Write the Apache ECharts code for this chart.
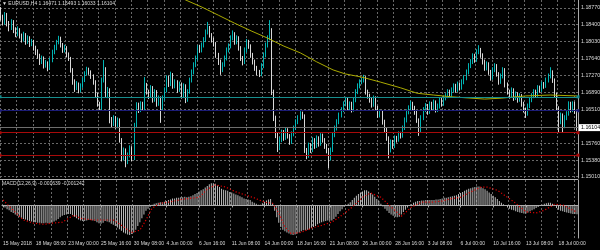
<!DOCTYPE html>
<html><head><meta charset="utf-8">
<script src="https://cdn.jsdelivr.net/npm/echarts@6/dist/echarts.min.js"></script>
<style>html,body{margin:0;padding:0;background:#000;}#c{width:600px;height:250px;}</style>
</head><body><div id="c"></div>
<script>
const symbolName = 'EURUSD,H4';
const opens = [
1.1868,1.1855,1.1846,1.1861,1.1841,1.1832,1.1846,1.1828,1.1819,1.1828,
1.1815,1.1806,1.1817,1.1801,1.1810,1.1797,1.1801,1.1788,1.1779,1.1770,
1.1757,1.1765,1.1748,1.1754,1.1743,1.1761,1.1779,1.1788,1.1801,1.1810,
1.1794,1.1783,1.1788,1.1772,1.1765,1.1739,1.1712,1.1699,1.1707,1.1694,
1.1703,1.1716,1.1730,1.1739,1.1734,1.1725,1.1712,1.1683,1.1663,1.1654,
1.1716,1.1739,1.1683,1.1694,1.1627,1.1618,1.1632,1.1614,1.1627,1.1583,
1.1542,1.1560,1.1534,1.1549,1.1565,1.1542,1.1616,1.1661,1.1650,1.1663,
1.1654,1.1705,1.1690,1.1681,1.1699,1.1672,1.1690,1.1663,1.1676,1.1654,
1.1676,1.1694,1.1721,1.1707,1.1728,1.1703,1.1712,1.1694,1.1707,1.1681,
1.1703,1.1672,1.1690,1.1716,1.1734,1.1750,1.1765,1.1788,1.1783,1.1794,
1.1806,1.1823,1.1832,1.1817,1.1806,1.1797,1.1772,1.1757,1.1739,1.1750,
1.1765,1.1783,1.1792,1.1810,1.1819,1.1801,1.1810,1.1788,1.1765,1.1757,
1.1783,1.1801,1.1792,1.1772,1.1757,1.1743,1.1734,1.1730,1.1748,1.1772,
1.1794,1.1810,1.1828,1.1690,1.1632,1.1594,1.1565,1.1583,1.1600,1.1587,
1.1605,1.1592,1.1578,1.1596,1.1609,1.1623,1.1632,1.1641,1.1636,1.1560,
1.1547,1.1571,1.1560,1.1583,1.1569,1.1587,1.1574,1.1592,1.1583,1.1569,
1.1560,1.1542,1.1560,1.1594,1.1609,1.1623,1.1638,1.1650,1.1663,1.1672,
1.1654,1.1663,1.1650,1.1672,1.1690,1.1703,1.1712,1.1716,1.1721,1.1690,
1.1681,1.1672,1.1661,1.1676,1.1654,1.1638,1.1645,1.1623,1.1605,1.1587,
1.1560,1.1578,1.1569,1.1587,1.1583,1.1596,1.1592,1.1609,1.1627,1.1645,
1.1654,1.1663,1.1654,1.1645,1.1627,1.1605,1.1632,1.1650,1.1658,1.1645,
1.1663,1.1654,1.1667,1.1650,1.1658,1.1672,1.1663,1.1676,1.1681,1.1690,
1.1683,1.1694,1.1703,1.1694,1.1707,1.1699,1.1712,1.1721,1.1734,1.1748,
1.1757,1.1770,1.1761,1.1779,1.1783,1.1772,1.1757,1.1743,1.1752,1.1734,
1.1721,1.1739,1.1748,1.1730,1.1712,1.1725,1.1739,1.1707,1.1690,1.1681,
1.1694,1.1676,1.1685,1.1672,1.1681,1.1663,1.1650,1.1641,1.1658,1.1672,
1.1681,1.1690,1.1683,1.1699,1.1694,1.1707,1.1703,1.1716,1.1725,1.1734,
1.1716,1.1683,1.1654,1.1623,1.1638,1.1614,1.1632,1.1641,1.1663,1.1650,
1.1663,1.16471];
const highs = [
1.1879,1.1862,1.1868,1.1866,1.1848,1.1852,1.1850,1.1834,1.1836,1.1832,
1.1820,1.1824,1.1821,1.1816,1.1814,1.1808,1.1806,1.1793,1.1785,1.1775,
1.1771,1.1769,1.1761,1.1758,1.1766,1.1784,1.1795,1.1806,1.1815,1.1813,
1.1799,1.1795,1.1792,1.1778,1.1768,1.1743,1.1718,1.1714,1.1711,1.1709,
1.1722,1.1736,1.1746,1.1744,1.1738,1.1729,1.1716,1.1688,1.1668,1.1722,
1.1761,1.1745,1.1701,1.1698,1.1634,1.1638,1.1636,1.1633,1.1631,1.1587,
1.1566,1.1564,1.1555,1.1571,1.1569,1.1621,1.1667,1.1666,1.1669,1.1668,
1.1723,1.1710,1.1695,1.1705,1.1703,1.1696,1.1694,1.1682,1.1680,1.1682,
1.1700,1.1727,1.1726,1.1735,1.1732,1.1718,1.1716,1.1713,1.1711,1.1709,
1.1707,1.1696,1.1722,1.1740,1.1756,1.1771,1.1794,1.1795,1.1800,1.1812,
1.1829,1.1846,1.1837,1.1821,1.1811,1.1801,1.1777,1.1762,1.1756,1.1771,
1.1789,1.1798,1.1816,1.1827,1.1823,1.1816,1.1814,1.1792,1.1770,1.1789,
1.1808,1.1806,1.1796,1.1777,1.1762,1.1748,1.1739,1.1754,1.1778,1.1800,
1.1816,1.1850,1.1832,1.1695,1.1637,1.1599,1.1589,1.1606,1.1605,1.1611,
1.1609,1.1596,1.1602,1.1615,1.1629,1.1638,1.1647,1.1646,1.1640,1.1565,
1.1577,1.1576,1.1589,1.1587,1.1593,1.1591,1.1598,1.1597,1.1587,1.1574,
1.1565,1.1566,1.1600,1.1615,1.1629,1.1644,1.1656,1.1669,1.1679,1.1677,
1.1669,1.1668,1.1678,1.1696,1.1709,1.1718,1.1722,1.1728,1.1725,1.1695,
1.1686,1.1677,1.1682,1.1680,1.1659,1.1651,1.1649,1.1628,1.1610,1.1591,
1.1584,1.1583,1.1593,1.1592,1.1602,1.1601,1.1615,1.1633,1.1651,1.1660,
1.1670,1.1668,1.1659,1.1649,1.1631,1.1638,1.1656,1.1665,1.1663,1.1669,
1.1668,1.1673,1.1671,1.1664,1.1678,1.1677,1.1682,1.1687,1.1696,1.1695,
1.1700,1.1709,1.1708,1.1713,1.1711,1.1718,1.1727,1.1740,1.1754,1.1763,
1.1776,1.1775,1.1785,1.1794,1.1788,1.1776,1.1762,1.1758,1.1756,1.1739,
1.1745,1.1754,1.1752,1.1734,1.1731,1.1745,1.1743,1.1711,1.1695,1.1700,
1.1698,1.1691,1.1689,1.1687,1.1685,1.1668,1.1655,1.1664,1.1678,1.1687,
1.1696,1.1695,1.1705,1.1704,1.1713,1.1712,1.1722,1.1731,1.1745,1.1738,
1.1720,1.1688,1.1658,1.1644,1.1642,1.1638,1.1647,1.1669,1.1668,1.1669,
1.1668,1.16493];
const lows = [
1.1849,1.1838,1.1840,1.1836,1.1825,1.1828,1.1821,1.1812,1.1814,1.1809,
1.1800,1.1802,1.1795,1.1797,1.1790,1.1792,1.1782,1.1772,1.1764,1.1750,
1.1752,1.1742,1.1744,1.1736,1.1739,1.1756,1.1774,1.1783,1.1796,1.1789,
1.1777,1.1778,1.1767,1.1759,1.1733,1.1706,1.1690,1.1694,1.1687,1.1689,
1.1699,1.1712,1.1726,1.1728,1.1719,1.1706,1.1677,1.1657,1.1648,1.1650,
1.1711,1.1678,1.1676,1.1620,1.1611,1.1614,1.1608,1.1609,1.1577,1.1535,
1.1537,1.1522,1.1529,1.1544,1.1536,1.1538,1.1611,1.1643,1.1645,1.1648,
1.1650,1.1684,1.1674,1.1677,1.1666,1.1668,1.1657,1.1659,1.1621,1.1648,
1.1671,1.1689,1.1701,1.1703,1.1697,1.1698,1.1688,1.1690,1.1675,1.1677,
1.1665,1.1668,1.1686,1.1711,1.1729,1.1745,1.1760,1.1777,1.1778,1.1789,
1.1801,1.1818,1.1811,1.1800,1.1791,1.1766,1.1750,1.1728,1.1734,1.1746,
1.1760,1.1778,1.1787,1.1805,1.1795,1.1796,1.1782,1.1759,1.1749,1.1752,
1.1778,1.1786,1.1766,1.1751,1.1737,1.1727,1.1723,1.1725,1.1743,1.1767,
1.1789,1.1805,1.1683,1.1625,1.1587,1.1556,1.1560,1.1578,1.1581,1.1583,
1.1586,1.1572,1.1574,1.1591,1.1605,1.1618,1.1627,1.1630,1.1554,1.1540,
1.1543,1.1554,1.1556,1.1563,1.1565,1.1568,1.1570,1.1577,1.1563,1.1553,
1.1520,1.1537,1.1556,1.1589,1.1604,1.1618,1.1633,1.1645,1.1658,1.1648,
1.1649,1.1644,1.1646,1.1667,1.1685,1.1698,1.1707,1.1711,1.1684,1.1675,
1.1666,1.1655,1.1657,1.1648,1.1632,1.1633,1.1617,1.1599,1.1581,1.1542,
1.1555,1.1563,1.1565,1.1577,1.1579,1.1586,1.1588,1.1605,1.1622,1.1640,
1.1649,1.1648,1.1639,1.1621,1.1592,1.1600,1.1627,1.1645,1.1639,1.1641,
1.1648,1.1650,1.1644,1.1645,1.1653,1.1657,1.1659,1.1671,1.1676,1.1677,
1.1679,1.1689,1.1688,1.1690,1.1693,1.1695,1.1707,1.1716,1.1729,1.1743,
1.1752,1.1755,1.1757,1.1774,1.1766,1.1751,1.1737,1.1738,1.1728,1.1715,
1.1717,1.1734,1.1724,1.1706,1.1708,1.1720,1.1700,1.1684,1.1675,1.1677,
1.1670,1.1672,1.1666,1.1668,1.1657,1.1644,1.1632,1.1637,1.1654,1.1667,
1.1676,1.1677,1.1679,1.1688,1.1690,1.1697,1.1699,1.1711,1.1720,1.1710,
1.1677,1.1648,1.1600,1.1618,1.1600,1.1609,1.1627,1.1637,1.1644,1.1645,
1.1641,1.16033];
const closes = [
1.1855,1.1846,1.1861,1.1841,1.1832,1.1846,1.1828,1.1819,1.1828,1.1815,
1.1806,1.1817,1.1801,1.1810,1.1797,1.1801,1.1788,1.1779,1.1770,1.1757,
1.1765,1.1748,1.1754,1.1743,1.1761,1.1779,1.1788,1.1801,1.1810,1.1794,
1.1783,1.1788,1.1772,1.1765,1.1739,1.1712,1.1699,1.1707,1.1694,1.1703,
1.1716,1.1730,1.1739,1.1734,1.1725,1.1712,1.1683,1.1663,1.1654,1.1716,
1.1739,1.1683,1.1694,1.1627,1.1618,1.1632,1.1614,1.1627,1.1583,1.1542,
1.1560,1.1534,1.1549,1.1565,1.1542,1.1616,1.1661,1.1650,1.1663,1.1654,
1.1705,1.1690,1.1681,1.1699,1.1672,1.1690,1.1663,1.1676,1.1654,1.1676,
1.1694,1.1721,1.1707,1.1728,1.1703,1.1712,1.1694,1.1707,1.1681,1.1703,
1.1672,1.1690,1.1716,1.1734,1.1750,1.1765,1.1788,1.1783,1.1794,1.1806,
1.1823,1.1832,1.1817,1.1806,1.1797,1.1772,1.1757,1.1739,1.1750,1.1765,
1.1783,1.1792,1.1810,1.1819,1.1801,1.1810,1.1788,1.1765,1.1757,1.1783,
1.1801,1.1792,1.1772,1.1757,1.1743,1.1734,1.1730,1.1748,1.1772,1.1794,
1.1810,1.1828,1.1690,1.1632,1.1594,1.1565,1.1583,1.1600,1.1587,1.1605,
1.1592,1.1578,1.1596,1.1609,1.1623,1.1632,1.1641,1.1636,1.1560,1.1547,
1.1571,1.1560,1.1583,1.1569,1.1587,1.1574,1.1592,1.1583,1.1569,1.1560,
1.1542,1.1560,1.1594,1.1609,1.1623,1.1638,1.1650,1.1663,1.1672,1.1654,
1.1663,1.1650,1.1672,1.1690,1.1703,1.1712,1.1716,1.1721,1.1690,1.1681,
1.1672,1.1661,1.1676,1.1654,1.1638,1.1645,1.1623,1.1605,1.1587,1.1560,
1.1578,1.1569,1.1587,1.1583,1.1596,1.1592,1.1609,1.1627,1.1645,1.1654,
1.1663,1.1654,1.1645,1.1627,1.1605,1.1632,1.1650,1.1658,1.1645,1.1663,
1.1654,1.1667,1.1650,1.1658,1.1672,1.1663,1.1676,1.1681,1.1690,1.1683,
1.1694,1.1703,1.1694,1.1707,1.1699,1.1712,1.1721,1.1734,1.1748,1.1757,
1.1770,1.1761,1.1779,1.1783,1.1772,1.1757,1.1743,1.1752,1.1734,1.1721,
1.1739,1.1748,1.1730,1.1712,1.1725,1.1739,1.1707,1.1690,1.1681,1.1694,
1.1676,1.1685,1.1672,1.1681,1.1663,1.1650,1.1641,1.1658,1.1672,1.1681,
1.1690,1.1683,1.1699,1.1694,1.1707,1.1703,1.1716,1.1725,1.1734,1.1716,
1.1683,1.1654,1.1623,1.1638,1.1614,1.1632,1.1641,1.1663,1.1650,1.1663,
1.1647,1.16104];

const maBars   = [86, 90, 98, 106, 114, 122, 130, 138, 146, 154, 162, 168, 176, 185, 195, 203, 211, 220, 236, 244, 256, 268, 281];
const maValues = [1.1906, 1.1895, 1.1879, 1.1861, 1.1843, 1.1826, 1.1810, 1.1792, 1.1777, 1.1757, 1.1739, 1.1730, 1.1723, 1.1712, 1.1699, 1.1687, 1.1683, 1.1679, 1.1674, 1.1676, 1.1681, 1.1683, 1.1681];

const levelValues = [1.1679, 1.1648, 1.1599, 1.1549];

const macdHist = [
-0.0002,-0.0004,-0.0007,-0.0009,-0.0012,-0.0014,-0.0017,-0.0019,-0.0021,-0.0023,
-0.0025,-0.0026,-0.0028,-0.0029,-0.0030,-0.0031,-0.0031,-0.0032,-0.0032,-0.0033,
-0.0033,-0.0032,-0.0033,-0.0033,-0.0032,-0.0030,-0.0028,-0.0025,-0.0022,-0.0019,
-0.0018,-0.0017,-0.0016,-0.0016,-0.0018,-0.0021,-0.0024,-0.0026,-0.0028,-0.0029,
-0.0029,-0.0028,-0.0027,-0.0027,-0.0028,-0.0029,-0.0031,-0.0033,-0.0034,-0.0032,
-0.0029,-0.0030,-0.0031,-0.0034,-0.0036,-0.0038,-0.0041,-0.0044,-0.0047,-0.0050,
-0.0052,-0.0054,-0.0055,-0.0053,-0.0050,-0.0045,-0.0038,-0.0031,-0.0024,-0.0017,
-0.0010,-0.0006,-0.0003,0.0001,0.0003,0.0004,0.0005,0.0006,0.0006,0.0007,
0.0008,0.0010,0.0011,0.0013,0.0013,0.0014,0.0014,0.0015,0.0015,0.0016,
0.0015,0.0016,0.0017,0.0019,0.0021,0.0023,0.0026,0.0028,0.0030,0.0033,
0.0036,0.0039,0.0041,0.0041,0.0040,0.0037,0.0034,0.0031,0.0029,0.0028,
0.0027,0.0025,0.0024,0.0022,0.0020,0.0019,0.0017,0.0015,0.0013,0.0012,
0.0011,0.0010,0.0007,0.0005,0.0003,0.0001,0.0001,0.0004,0.0007,0.0009,
0.0011,0.0012,0.0004,-0.0010,-0.0022,-0.0032,-0.0040,-0.0045,-0.0048,-0.0050,
-0.0052,-0.0054,-0.0055,-0.0054,-0.0052,-0.0050,-0.0048,-0.0046,-0.0046,-0.0045,
-0.0044,-0.0042,-0.0040,-0.0038,-0.0035,-0.0033,-0.0031,-0.0030,-0.0029,-0.0028,
-0.0028,-0.0028,-0.0025,-0.0021,-0.0016,-0.0011,-0.0007,-0.0003,0.0000,0.0003,
0.0006,0.0010,0.0014,0.0018,0.0021,0.0024,0.0026,0.0028,0.0028,0.0026,
0.0023,0.0020,0.0016,0.0012,0.0008,0.0003,-0.0002,-0.0006,-0.0010,-0.0014,
-0.0017,-0.0019,-0.0021,-0.0022,-0.0021,-0.0017,-0.0012,-0.0008,-0.0004,-0.0001,
0.0002,0.0005,0.0007,0.0008,0.0008,0.0009,0.0009,0.0010,0.0010,0.0010,
0.0010,0.0010,0.0011,0.0011,0.0012,0.0013,0.0014,0.0014,0.0015,0.0016,
0.0017,0.0018,0.0019,0.0021,0.0023,0.0025,0.0027,0.0029,0.0031,0.0032,
0.0033,0.0034,0.0035,0.0035,0.0034,0.0032,0.0030,0.0027,0.0024,0.0021,
0.0018,0.0015,0.0012,0.0008,0.0005,0.0002,-0.0001,-0.0004,-0.0006,-0.0008,
-0.0009,-0.0011,-0.0012,-0.0013,-0.0014,-0.0015,-0.0015,-0.0013,-0.0011,-0.0009,
-0.0007,-0.0005,-0.0003,-0.0001,0.0001,0.0003,0.0004,0.0005,0.0005,0.0003,
-0.0001,-0.0005,-0.0008,-0.0010,-0.0011,-0.0012,-0.0013,-0.0014,-0.0015,-0.0016,
-0.0016,-0.001639];

const signalBars   = [0,5,10,15,20,24,29,33,35,38,44,54,58,63,67,70,73,77,81,89,96,100,104,109,114,119,123,128,132,135,138,141,146,151,156,161,166,171,176,180,185,190,195,200,205,210,215,219,224,229,234,237,242,247,251,256,261,265,270,274,279,281];
const signalValues = [0.0010,-0.0009,-0.0027,-0.0033,-0.0035,-0.0033,-0.0031,-0.0022,-0.0018,-0.0024,-0.0027,-0.0027,-0.0037,-0.0050,-0.0046,-0.0027,-0.0005,0.0004,0.0006,0.0012,0.0015,0.0030,0.0038,0.0034,0.0025,0.0019,0.0014,0.0006,0.0004,-0.0014,-0.0040,-0.0052,-0.0050,-0.0042,-0.0037,-0.0031,-0.0018,-0.0003,0.0015,0.0023,0.0015,-0.0003,-0.0020,-0.0003,0.0006,0.0006,0.0008,0.0012,0.0015,0.0025,0.0034,0.0034,0.0028,0.0015,0.0004,-0.0012,-0.0014,-0.0009,0.0002,0.0001,-0.0009,-0.001242];

const priceTicks = [1.18770, 1.18400, 1.18030, 1.17640, 1.17270, 1.16890, 1.16510, 1.15760, 1.15380, 1.15010];
const macdTicks = [0.004092, 0, -0.005539];
const timeLabels = ['15 May 2018','18 May 08:00','23 May 00:00','25 May 16:00','30 May 08:00','4 Jun 00:00','6 Jun 16:00','11 Jun 08:00','14 Jun 00:00','18 Jun 16:00','21 Jun 08:00','26 Jun 00:00','28 Jun 16:00','3 Jul 08:00','6 Jul 00:00','10 Jul 16:00','13 Jul 08:00','18 Jul 00:00'];

// ---- build ----
const N = closes.length;
const cats = closes.map((_, i) => String(i));
const candleData = closes.map((c, i) => [opens[i], c, lows[i], highs[i]]);
const last = N - 1;
const FONT = 'Liberation Sans';
const TXT = '#dcdcdc';
const GRIDC = '#686868';
const AXC = '#a8a8a8';
const levelColors = ['#168e8e', '#1c1c78', '#a80a0a', '#a80a0a'];
const fmt5 = v => v.toFixed(5);

const chart = echarts.init(document.getElementById('c'), null, {renderer: 'canvas'});
chart.setOption({
  backgroundColor: '#000',
  animation: false,
  title: [
    {text: '\u25BC ' + symbolName + ' ' + fmt5(opens[last]) + ' ' + fmt5(highs[last]) + ' ' + fmt5(lows[last]) + ' ' + fmt5(closes[last]),
     left: 2, top: 1, padding: 0, textStyle: {color: TXT, fontSize: 5, fontWeight: 'normal', fontFamily: FONT}},
    {text: 'MACD(12,26,9) ' + macdHist[last].toFixed(6) + ' ' + signalValues[signalValues.length - 1].toFixed(6),
     left: 2, top: 181, padding: 0, textStyle: {color: TXT, fontSize: 5, fontWeight: 'normal', fontFamily: FONT}}
  ],
  grid: [
    {left: -1, right: 22, top: 0, height: 178},
    {left: -1, right: 22, top: 180, height: 58}
  ],
  xAxis: [
    {type: 'category', gridIndex: 0, data: cats,
     axisLine: {show: false}, axisTick: {show: false}, axisLabel: {show: false},
     splitLine: {show: true, interval: i => i % 8 === 0, lineStyle: {color: GRIDC, type: [2, 2], width: 1}}},
    {type: 'category', gridIndex: 1, data: cats,
     axisLine: {show: true, lineStyle: {color: AXC, width: 1}},
     axisTick: {show: true, interval: i => i % 16 === 0, alignWithLabel: true, length: 2, lineStyle: {color: AXC}},
     axisLabel: {show: true, interval: i => i % 16 === 0, formatter: (v, i) => timeLabels[i / 16] || '',
                 align: 'left', margin: 3, color: TXT, fontSize: 5, fontFamily: FONT},
     splitLine: {show: true, interval: i => i % 8 === 0, lineStyle: {color: GRIDC, type: [2, 2], width: 1}}}
  ],
  yAxis: [
    {type: 'value', gridIndex: 0, position: 'right', min: 1.14981, max: 1.18948,
     axisLine: {show: true, lineStyle: {color: AXC}}, axisTick: {show: false}, axisLabel: {show: false}, splitLine: {show: false}},
    {type: 'value', gridIndex: 1, position: 'right', min: -0.00604, max: 0.00471,
     axisLine: {show: true, lineStyle: {color: AXC}}, axisTick: {show: false}, axisLabel: {show: false}, splitLine: {show: false}}
  ],
  graphic: [
    {type: 'line', shape: {x1: 0, y1: 179.5, x2: 578, y2: 179.5}, style: {stroke: '#b4b4b4', lineWidth: 1}, silent: true}
  ],
  series: [
    {type: 'line', xAxisIndex: 0, yAxisIndex: 0, data: [], z: 1,
     markLine: {silent: true, symbol: 'none', z: 1, animation: false, precision: 5,
       lineStyle: {color: GRIDC, type: [2, 2], width: 1},
       label: {show: true, position: 'end', distance: 3, color: TXT, fontSize: 5.3, fontFamily: FONT, formatter: p => fmt5(p.value)},
       data: priceTicks.map(v => ({yAxis: v}))}},
    {type: 'candlestick', xAxisIndex: 0, yAxisIndex: 0, data: candleData, barWidth: 1.2, z: 2,
     itemStyle: {color: '#00c8c8', color0: '#ffffff', borderColor: '#00c8c8', borderColor0: '#f0f0f0', borderWidth: 0.9}},
    {type: 'line', xAxisIndex: 0, yAxisIndex: 0, data: maBars.map((b, i) => [b, maValues[i]]),
     showSymbol: false, connectNulls: true, z: 4, lineStyle: {color: '#aaaa00', width: 1}},
    {type: 'line', xAxisIndex: 0, yAxisIndex: 0, data: [], z: 5,
     markLine: {silent: true, symbol: ['rect', 'rect'], symbolSize: 3, z: 5, animation: false, precision: 5,
       label: {show: false},
       data: levelValues.map((v, i) => ({yAxis: v, lineStyle: {color: levelColors[i], type: 'solid', width: 1}, itemStyle: {color: levelColors[i]}}))}},
    {type: 'line', xAxisIndex: 0, yAxisIndex: 0, data: [], z: 5,
     markLine: {silent: true, symbol: 'none', z: 6, animation: false, precision: 5,
       lineStyle: {color: '#6e6e6e', type: 'solid', width: 1},
       label: {show: true, position: 'end', distance: 1, color: '#000', backgroundColor: '#ffffff', padding: [1, 2, 1, 2],
               fontSize: 5.3, fontFamily: FONT, formatter: p => fmt5(p.value)},
       data: [{yAxis: closes[last]}]}},
    {type: 'bar', xAxisIndex: 1, yAxisIndex: 1, data: macdHist, barWidth: 1, z: 2,
     itemStyle: {color: '#bdbdbd'},
     markLine: {silent: true, symbol: 'none', z: 1, animation: false, precision: 6,
       lineStyle: {opacity: 0},
       label: {show: true, position: 'end', distance: 3, color: TXT, fontSize: 5.3, fontFamily: FONT,
               formatter: p => (p.value === 0 ? '0.00' : p.value.toFixed(6))},
       data: macdTicks.map(v => ({yAxis: v}))}},
    {type: 'line', xAxisIndex: 1, yAxisIndex: 1, data: signalBars.map((b, i) => [b, signalValues[i]]),
     showSymbol: false, connectNulls: true, z: 4, lineStyle: {color: '#e00000', width: 1.2, type: [1.2, 2]}}
  ]
});
</script>
</body></html>
